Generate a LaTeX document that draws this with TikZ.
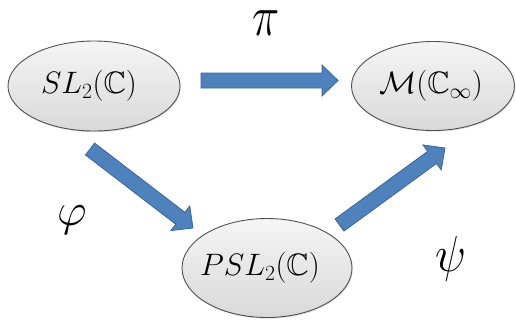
\RequirePackage{fix-cm}
\documentclass[tikz,border=0pt]{standalone}
\usepackage{amssymb}
\usetikzlibrary{shapes.geometric,calc,shadows}
\definecolor{arrfill}{HTML}{4F81BD}
\definecolor{arrdraw}{HTML}{3A6596}
\definecolor{elldraw}{HTML}{505050}
\tikzset{
  ellnode/.style={ellipse, draw=elldraw, line width=0.9pt, inner sep=0pt,
    top color=gray!8, bottom color=gray!30,
    drop shadow={shadow xshift=0.8pt, shadow yshift=-1.2pt, opacity=0.25},
    font=\fontsize{31}{36}\selectfont},
  blockarrow/.style={fill=arrfill, draw=arrdraw, line width=0.8pt, line join=miter},
  maplabel/.style={inner sep=0pt, font=\fontsize{46}{50}\selectfont}
}
\newcommand{\blkarrow}[2]{%
  \coordinate (tmpC) at ($(#2)!16pt!(#1)$);
  \draw[blockarrow] ($(#1)!7.5pt!-90:(#2)$) -- ($(tmpC)!7.5pt!90:(#1)$)
    -- ($(tmpC)!15.5pt!90:(#1)$) -- (#2) -- ($(tmpC)!15.5pt!-90:(#1)$)
    -- ($(tmpC)!7.5pt!-90:(#1)$) -- ($(#1)!7.5pt!90:(#2)$) -- cycle;}
\begin{document}
\begin{tikzpicture}[x=1pt,y=-1pt]
\useasboundingbox (0,0) rectangle (516,322);
\node[ellnode, minimum width=172pt, minimum height=90pt] (sl) at (94,86) {\kern-10pt$SL_2(\mathbb{C})$};
\node[ellnode, minimum width=163pt, minimum height=89pt] (m) at (433,86) {\kern-4pt$\mathcal{M}(\mathbb{C}_\infty)$};
\node[ellnode, minimum width=170pt, minimum height=99pt] (psl) at (267,268) {\kern-14pt$PSL_2(\mathbb{C})$};
\coordinate (piA) at (201,80.5);
\coordinate (piB) at (338,80.5);
\coordinate (phA) at (90,149);
\coordinate (phB) at (193,228);
\coordinate (psA) at (339.5,225);
\coordinate (psB) at (445,148);
\blkarrow{piA}{piB}
\blkarrow{phA}{phB}
\blkarrow{psA}{psB}
\node[maplabel, yscale=1.25] (lpi) at (266,23) {$\pi$};
\node[maplabel] (lphi) at (72,220) {$\varphi$};
\node[maplabel, yscale=1.1] (lpsi) at (451,259) {$\psi$};
\end{tikzpicture}
\end{document}
